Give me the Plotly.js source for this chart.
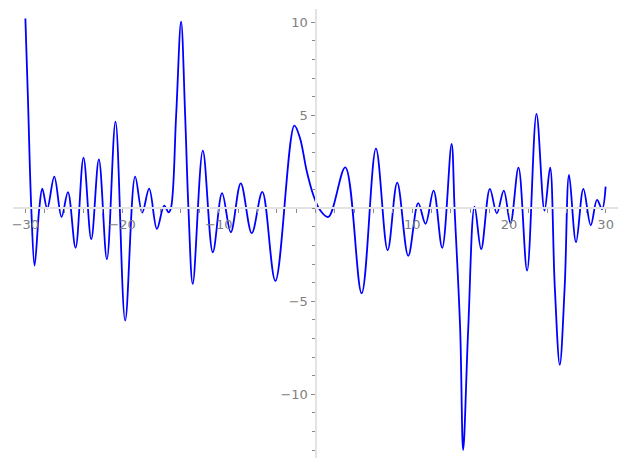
<!DOCTYPE html>
<html>
<head>
<meta charset="utf-8">
<script src="https://cdn.plot.ly/plotly-3.0.1.min.js"></script>
<style>html,body{margin:0;padding:0;background:#fff;}#chart{width:627px;height:469px;}</style>
</head>
<body>
<div id="chart"></div>
<script>
// curve samples (x, y)
const xValues = [-30, -29.73, -29.39, -29.05, -28.56, -28.25, -27.74, -27.01, -26.26, -25.6,
  -24.81, -23.99, -23.19, -22.4, -21.57, -20.68, -19.68, -18.65, -17.92, -17.2,
  -16.4, -15.65, -15.2, -14.95, -14.41, -13.9, -13.48, -13.14, -12.69, -11.65,
  -10.62, -9.66, -8.76, -7.73, -6.59, -5.5, -4.15, -2.19, -1.6, -0.91,
  -0.22, 0.46, 1.33, 3.08, 4.77, 6.25, 7.46, 8.45, 9.59, 10.62,
  11.38, 12.21, 13.1, 14.07, 14.38, 14.96, 15.27, 15.79, 16.45, 17.13,
  18.03, 18.75, 19.47, 20.16, 20.99, 21.88, 22.85, 23.68, 24.26, 24.74,
  25.26, 25.77, 26.22, 26.94, 27.7, 28.46, 29.11, 29.63, 30];
const yValues = [10.2, 5.8, 0, -3.09, 0, 1.05, -0.02, 1.70, -0.47, 0.86,
  -2.13, 2.72, -1.67, 2.63, -2.74, 4.66, -6.04, 1.70, -0.24, 1.05,
  -1.11, 0.14, -0.22, 0, 5, 10.03, 5, 0, -4.07, 3.10,
  -2.37, 0.81, -1.29, 1.34, -1.34, 0.88, -3.91, 4.44, 3.76, 2.0,
  0.7, -0.09, -0.47, 2.2, -4.57, 3.2, -2.26, 1.38, -2.56, 0.27,
  -0.84, 0.95, -2.13, 3.46, 0, -6.5, -13.0, -6.5, 0.09, -2.2,
  1.04, -0.27, 0.95, -0.81, 2.18, -3.35, 5.07, -0.13, 2.18, -4.2,
  -8.42, -4.2, 1.79, -1.83, 1.04, -0.92, 0.45, -0.05, 1.16];
const xTickValues = [-30, -20, -10, 10, 20, 30];
const yTickValues = [-10, -5, 5, 10];

const xRange = [-31.28, 31.28];
const yRange = [-13.43, 10.71];
const zeroFracY = (0 - yRange[0]) / (yRange[1] - yRange[0]);
const zeroFracX = (0 - xRange[0]) / (xRange[1] - xRange[0]);

const axisColor = '#e3e3e3';
const tickColor = '#8a8a8a';
const labelFont = {family: 'DejaVu Sans, sans-serif', size: 13, color: '#808080'};

const trace = {
  x: xValues, y: yValues, type: 'scatter', mode: 'lines',
  line: {color: '#0000ff', width: 1.8, shape: 'spline', smoothing: 1},
  hoverinfo: 'skip'
};

const layout = {
  width: 627, height: 469,
  margin: {l: 13, r: 9, t: 9, b: 11, pad: 0},
  paper_bgcolor: '#ffffff', plot_bgcolor: '#ffffff',
  showlegend: false,
  xaxis: {
    range: xRange, anchor: 'free', position: zeroFracY,
    showline: true, linecolor: axisColor, linewidth: 2,
    showgrid: false, zeroline: false,
    tickmode: 'array', tickvals: xTickValues,
    ticks: 'outside', ticklen: 4, tickwidth: 1, tickcolor: tickColor,
    tickfont: labelFont,
    minor: {tickmode: 'linear', tick0: 0, dtick: 2, ticks: 'outside', ticklen: 4, tickwidth: 1, tickcolor: tickColor, showgrid: false}
  },
  yaxis: {
    range: yRange, anchor: 'free', position: zeroFracX,
    showline: true, linecolor: axisColor, linewidth: 2,
    showgrid: false, zeroline: false,
    tickmode: 'array', tickvals: yTickValues,
    ticks: 'outside', ticklen: 4, tickwidth: 1, tickcolor: tickColor,
    tickfont: labelFont,
    minor: {tickmode: 'linear', tick0: 0, dtick: 1, ticks: 'outside', ticklen: 2.5, tickwidth: 1, tickcolor: tickColor, showgrid: false}
  }
};

Plotly.newPlot('chart', [trace], layout, {staticPlot: true, displayModeBar: false});
</script>
</body>
</html>
